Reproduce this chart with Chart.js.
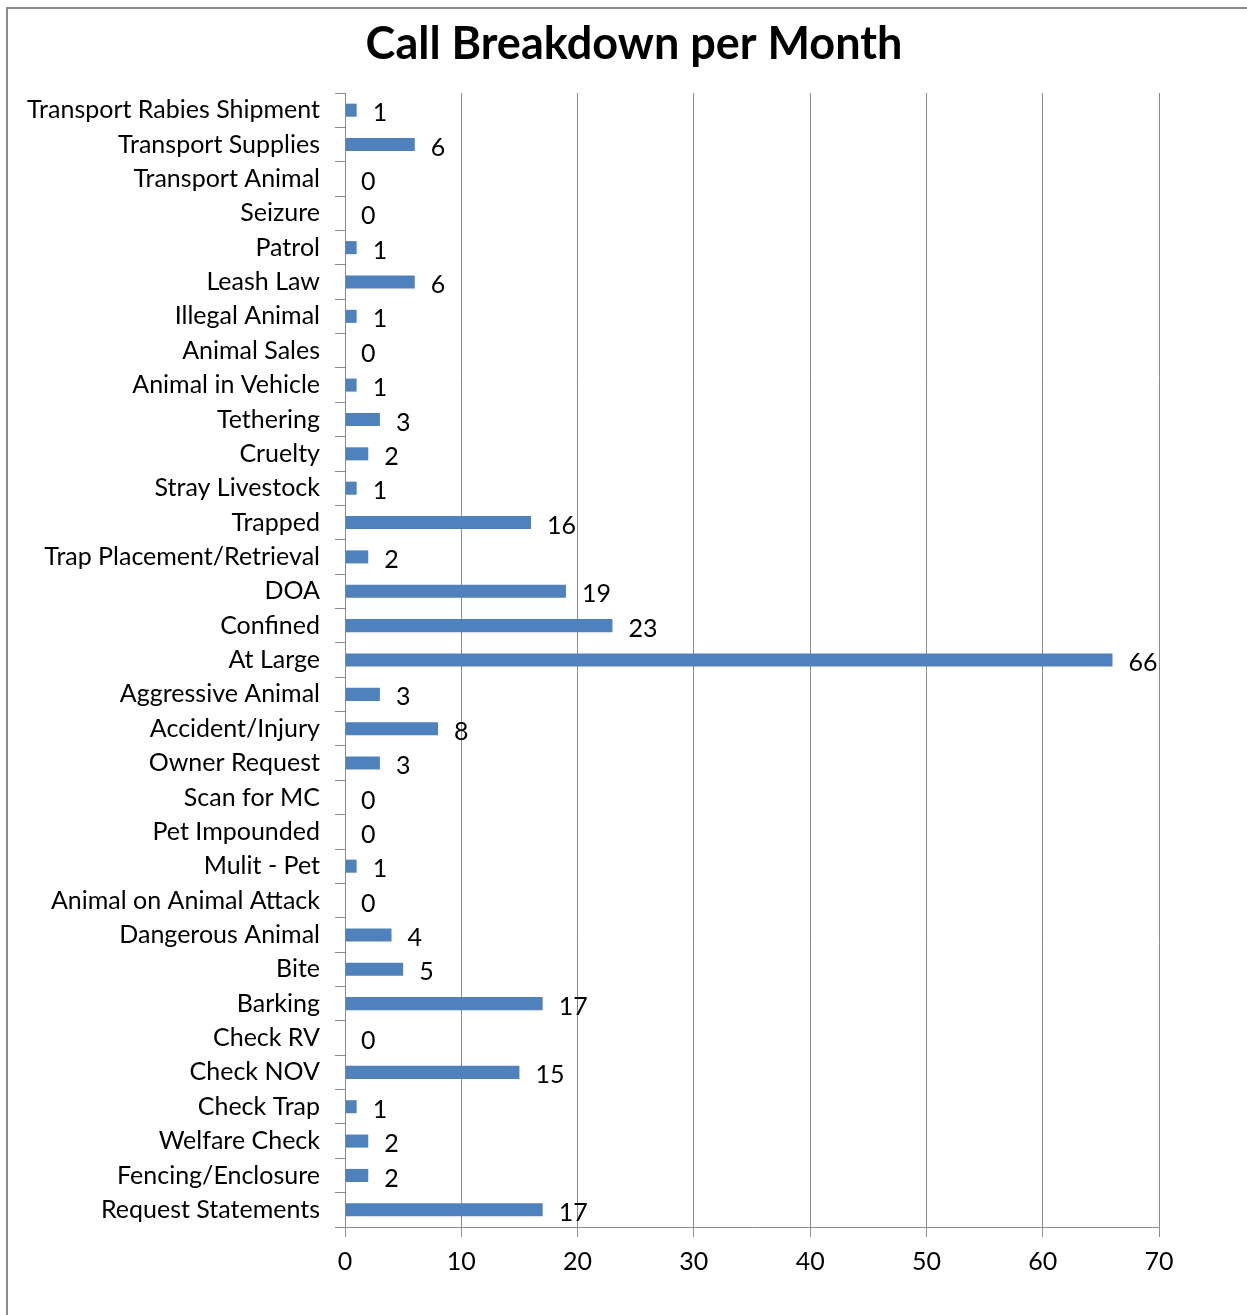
<!DOCTYPE html>
<html>
<head>
<meta charset="utf-8">
<script src="https://cdn.jsdelivr.net/npm/chart.js@4"></script>
<style>
  body { margin: 0; background: #fff; overflow: hidden; }
  #chart { width: 1247px; height: 1315px; }
</style>
</head>
<body>
<div id="chart"><canvas width="1247" height="1315"></canvas></div>
<script>
const categories = [
  "Transport Rabies Shipment", "Transport Supplies", "Transport Animal", "Seizure",
  "Patrol", "Leash Law", "Illegal Animal", "Animal Sales", "Animal in Vehicle",
  "Tethering", "Cruelty", "Stray Livestock", "Trapped", "Trap Placement/Retrieval",
  "DOA", "Confined", "At Large", "Aggressive Animal", "Accident/Injury",
  "Owner Request", "Scan for MC", "Pet Impounded", "Mulit - Pet",
  "Animal on Animal Attack", "Dangerous Animal", "Bite", "Barking", "Check RV",
  "Check NOV", "Check Trap", "Welfare Check", "Fencing/Enclosure", "Request Statements"
];
const calls = [
  1, 6, 0, 0,
  1, 6, 1, 0, 1,
  3, 2, 1, 16, 2,
  19, 23, 66, 3, 8,
  3, 0, 0, 1,
  0, 4, 5, 17, 0,
  15, 1, 2, 2, 17
];
const xTicks = [0, 10, 20, 30, 40, 50, 60, 70];
const chartTitle = "Call Breakdown per Month";

const fontFamily = "Lato, 'Liberation Sans', sans-serif";
const gridGray = "#8c8c8c";

// background, grey frame and the title
const framePlugin = {
  id: "frame",
  beforeDraw(chart) {
    let c = chart.ctx;
    c.save();
    c.fillStyle = "#fff";
    c.fillRect(0, 0, chart.width, chart.height);
    c.strokeStyle = "#8a8a8a";
    c.lineWidth = 2;
    c.beginPath();
    c.moveTo(7, chart.height);
    c.lineTo(7, 8);
    c.lineTo(chart.width, 8);
    c.stroke();

    c.font = "bold 45px " + fontFamily;
    c.fillStyle = "#000";
    c.textAlign = "center";
    c.textBaseline = "middle";
    c.fillText(chartTitle, 634, 44);
    c.restore();
  }
};

// value labels right of each bar
const valueLabels = {
  id: "valueLabels",
  afterDatasetsDraw(chart) {
    let c = chart.ctx;
    let meta = chart.getDatasetMeta(0);
    c.save();
    c.font = "25px " + fontFamily;
    c.fillStyle = "#000";
    c.textAlign = "left";
    c.textBaseline = "middle";
    meta.data.forEach((bar, i) => {
      c.fillText(String(calls[i]), bar.x + 16, bar.y + 3);
    });
    c.restore();
  }
};

let ctx = document.querySelector("#chart canvas").getContext("2d");

new Chart(ctx, {
  type: "bar",
  data: {
    labels: categories,
    datasets: [{
      data: calls,
      backgroundColor: "#4f81bd",
      borderWidth: 0,
      barPercentage: 0.38,
      categoryPercentage: 1
    }]
  },
  options: {
    indexAxis: "y",
    responsive: false,
    animation: false,
    layout: { padding: { left: 0, right: 88, top: 93, bottom: 0 } },
    plugins: {
      legend: { display: false },
      tooltip: { enabled: false },
      title: { display: false }
    },
    scales: {
      x: {
        min: 0,
        max: 70,
        afterBuildTicks: (scale) => { scale.ticks = xTicks.map((v) => ({ value: v })); },
        afterFit: (scale) => { scale.height = 88; },
        grid: { color: gridGray, lineWidth: 1, tickLength: 10 },
        border: { color: gridGray, width: 1 },
        ticks: { color: "#000", padding: 10, font: { family: fontFamily, size: 25 } }
      },
      y: {
        afterFit: (scale) => { scale.width = 345; },
        grid: { drawOnChartArea: false, color: gridGray, tickLength: 10 },
        border: { color: gridGray, width: 1 },
        ticks: { color: "#000", padding: 15, autoSkip: false, font: { family: fontFamily, size: 25 } }
      }
    }
  },
  plugins: [framePlugin, valueLabels]
});
</script>
</body>
</html>
